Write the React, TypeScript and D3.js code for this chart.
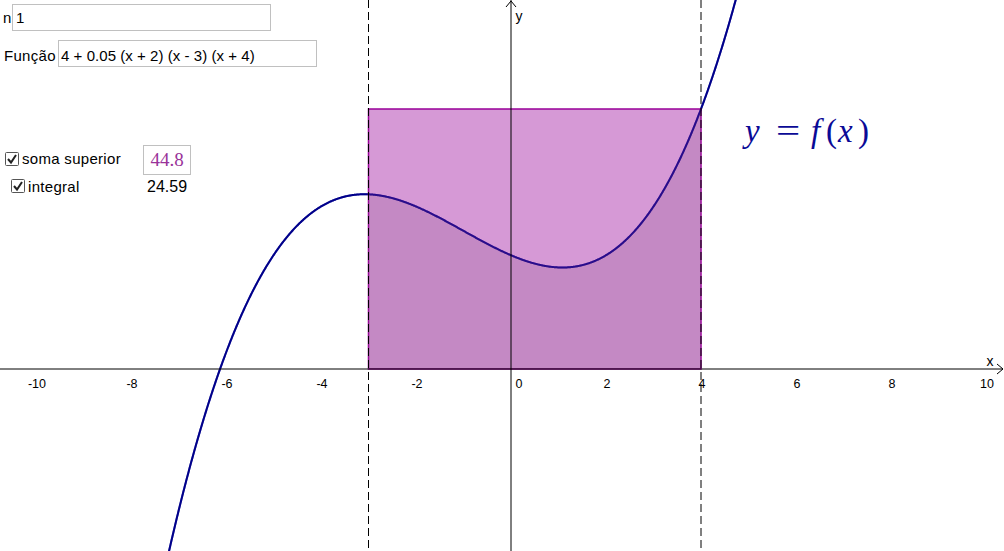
import React from 'react';
import * as d3 from 'd3';

// function f(x) = 4 + 0.05 (x + 2) (x - 3) (x + 4)
const fOffset = 4;
const fFactor = 0.05;
const fRoots = [-2, 3, -4];
const fText = '4 + 0.05 (x + 2) (x - 3) (x + 4)';

// Riemann sum settings
const interval = [-3, 4];
const nValue = 1;
const upperSumText = '44.8';
const integralText = '24.59';

const xTicks = [-10, -8, -6, -4, -2, 0, 2, 4, 6, 8, 10];

const f = (x: number) => fOffset + fFactor * fRoots.reduce((p, r) => p * (x - r), 1);

const W = 1004;
const H = 551;

const App = () => {
    const xScale = d3.scaleLinear().domain([-10, 10]).range([36, 986]);
    const yScale = d3.scaleLinear().domain([0, 6.4]).range([369, 109]);

    const x0 = xScale(0);
    const y0 = yScale(0);

    // sample curve across visible range
    const xs = d3.range(xScale.invert(0), xScale.invert(W), 0.01);
    const curve = xs.map(x => [x, f(x)] as [number, number]);

    const lineGen = d3.line<[number, number]>()
        .x(d => xScale(d[0]))
        .y(d => yScale(d[1]));

    // area under curve on the interval
    const areaPts = d3.range(interval[0], interval[1] + 0.0001, 0.01).map(x => [x, f(x)] as [number, number]);
    const areaGen = d3.area<[number, number]>()
        .x(d => xScale(d[0]))
        .y0(y0)
        .y1(d => yScale(d[1]));

    // upper sum rectangles
    const step = (interval[1] - interval[0]) / nValue;
    const rects = d3.range(nValue).map(i => {
        const a = interval[0] + i * step;
        const b = a + step;
        const h = d3.max(d3.range(a, b + 0.00001, step / 200), f) as number;
        return {a, b, h};
    });

    const sans = '"Liberation Sans", Arial, sans-serif';
    const serif = '"Liberation Serif", "DejaVu Serif", serif';
    const curvePath = lineGen(curve) || '';

    const checkbox = (x: number, y: number) => (
        <g transform={`translate(${x},${y})`}>
            <rect x={0.5} y={0.5} width={13} height={13} fill='#fff' stroke='#555' rx={1} />
            <path d='M3,7 L6,10.5 L11,3' fill='none' stroke='#222' strokeWidth={2} />
        </g>
    );

    return (
        <svg width={W} height={H} style={{position: 'absolute', left: 0, top: 0, background: '#fff'}}>
            {/* curve (under the fills, so it reads purple inside them) */}
            <path d={curvePath} fill='none' stroke='rgb(0,0,160)' strokeWidth={2} />

            {rects.map((r, i) => (
                <rect key={i}
                    x={xScale(r.a)} y={yScale(r.h)}
                    width={xScale(r.b) - xScale(r.a)} height={y0 - yScale(r.h)}
                    fill='rgb(173,51,173)' fillOpacity={0.5}
                    stroke='rgb(153,0,153)' strokeWidth={1.5} />
            ))}
            <path d={areaGen(areaPts) || ''} fill='rgb(124,73,124)' fillOpacity={0.2} stroke='none' />
            <path d={curvePath} fill='none' stroke='rgb(0,0,120)' strokeOpacity={0.55} strokeWidth={2} />

            {/* dashed interval lines */}
            {interval.map(v => (
                <line key={v} x1={xScale(v)} x2={xScale(v)} y1={0} y2={H}
                    stroke='#000' strokeWidth={1} strokeDasharray='8,4' />
            ))}

            {/* axes */}
            <line x1={0} x2={W - 1} y1={y0} y2={y0} stroke='#000' strokeWidth={1} />
            <path d={`M${W - 7},${y0 - 5} L${W - 1},${y0} L${W - 7},${y0 + 5}`} fill='none' stroke='#000' />
            <line x1={x0} x2={x0} y1={0} y2={H} stroke='#000' strokeWidth={1} />
            <path d={`M${x0 - 5},${7} L${x0},${1} L${x0 + 5},${7}`} fill='none' stroke='#000' />
            <text x={990} y={366} fontFamily={sans} fontSize={14} textAnchor='middle'>x</text>
            <text x={519} y={21} fontFamily={sans} fontSize={14} textAnchor='middle'>y</text>

            {xTicks.map(t => (
                <text key={t} x={xScale(t) + (t === 0 ? 8 : 1)} y={388}
                    fill='#000' fontFamily={sans} fontSize={12.5} textAnchor='middle'>{t}</text>
            ))}

            <g fill='rgb(10,10,150)' fontFamily={serif} fontSize={33}>
                <text x={745} y={142} fontStyle='italic'>y</text>
                <text x={776} y={142} transform='translate(776,0) scale(1.3,1) translate(-776,0)'>=</text>
                <text x={811} y={142} fontStyle='italic'>f</text>
                <text x={826} y={142}>(</text>
                <text x={838} y={142} fontStyle='italic'>x</text>
                <text x={858} y={142}>)</text>
            </g>

            {/* input boxes */}
            <text x={3} y={23} fontFamily={sans} fontSize={15}>n</text>
            <rect x={12.5} y={4.5} width={258} height={26} fill='#fff' stroke='#c0c0c0' />
            <text x={16} y={23} fontFamily={sans} fontSize={15}>{nValue}</text>

            <text x={4} y={61} fontFamily={sans} fontSize={15} letterSpacing={0.3}>Função</text>
            <rect x={58.5} y={40.5} width={258} height={26} fill='#fff' stroke='#c0c0c0' />
            <text x={61} y={61} fontFamily={sans} fontSize={15} letterSpacing={0.05}>{fText}</text>

            {/* checkboxes */}
            {checkbox(5, 152)}
            <text x={22} y={164} fontFamily={sans} fontSize={15} letterSpacing={0.3}>soma superior</text>
            <rect x={143.5} y={145.5} width={47} height={29} fill='#fff' stroke='#c0c0c0' />
            <text x={167} y={166} fill='rgb(153,51,153)' fontFamily={serif} fontSize={19} textAnchor='middle'>{upperSumText}</text>

            {checkbox(11, 179)}
            <text x={28} y={192} fontFamily={sans} fontSize={15} letterSpacing={0.3}>integral</text>
            <text x={147} y={192} fontFamily={sans} fontSize={16}>{integralText}</text>
        </svg>
    );
};

export default App;
